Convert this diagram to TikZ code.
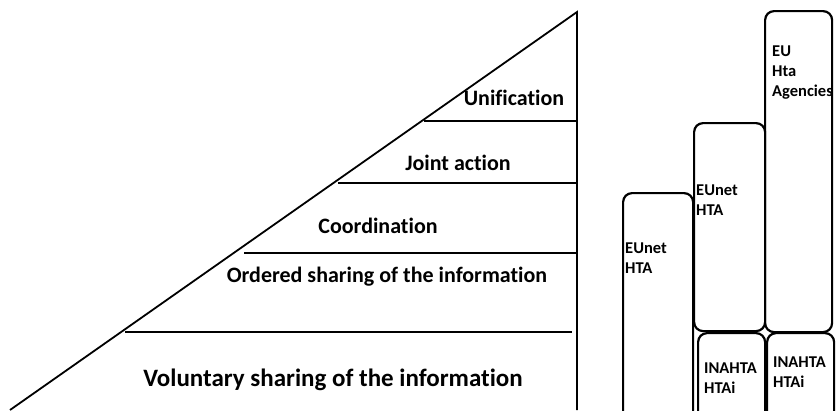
\documentclass[tikz,border=0pt]{standalone}
\usepackage{fontspec}
\setmainfont{Carlito}[Ligatures=NoCommon]
\usetikzlibrary{positioning}

\begin{document}
\begin{tikzpicture}[x=1pt, y=-1pt,
      layer/.style={line width=1.8pt},
      tier/.style={font=\fontsize{22}{26}\selectfont\bfseries, anchor=base, inner sep=0pt},
      body/.style={draw, line width=2.2pt, rounded corners=9pt, anchor=north west, inner sep=0pt},
      tag/.style={font=\fontsize{16.5}{20}\selectfont\bfseries, align=left, anchor=north west, inner sep=0pt}
    ]
      \useasboundingbox (0,0) rectangle (836,410);
      \clip (0,0) rectangle (836,410);

      % Pyramid
      \coordinate (apex) at (577,12);
      \coordinate (foot) at (10,410);
      \coordinate (corner) at (577,410);
      \draw[layer] (foot) -- (apex) -- (corner);
      \draw[layer] (424,121) -- (578,121);
      \draw[layer] (338,183) -- (578,183);
      \draw[layer] (244,253) -- (578,253);
      \draw[layer] (125,332) -- (572,332);

      % Levels
      \node[tier] (unif) at (514,105) {Unification};
      \node[tier] (joint) at (458,170) {Joint action};
      \node[tier] (coord) at (378,233) {Coordination};
      \node[tier] (order) at (387,282) {Ordered sharing of the information};
      \node[tier, font=\fontsize{25}{28}\selectfont\bfseries] (volun) at (333,386) {Voluntary sharing of the information};

      % Columns
      \node[body, minimum width=70, minimum height=230] (colA) at (622,192) {};
      \node[body, minimum width=71, minimum height=208] (colB) at (693,122) {};
      \node[body, minimum width=67, minimum height=321] (colC) at (764,10) {};
      \node[body, minimum width=67, minimum height=90] (colD) at (697,332) {};
      \node[body, minimum width=67, minimum height=90] (colE) at (766,332) {};

      % Column texts
      \node[tag] (tagA) at (625,243) {EUnet\\HTA};
      \node[tag] (tagB) at (696,185) {EUnet\\HTA};
      \node[tag] (tagC) at (772,46) {EU\\Hta\\Agencies};
      \node[tag] (tagD) at (704,363) {INAHTA\\HTAi};
      \node[tag] (tagE) at (773,357) {INAHTA\\HTAi};
    \end{tikzpicture}
\end{document}
